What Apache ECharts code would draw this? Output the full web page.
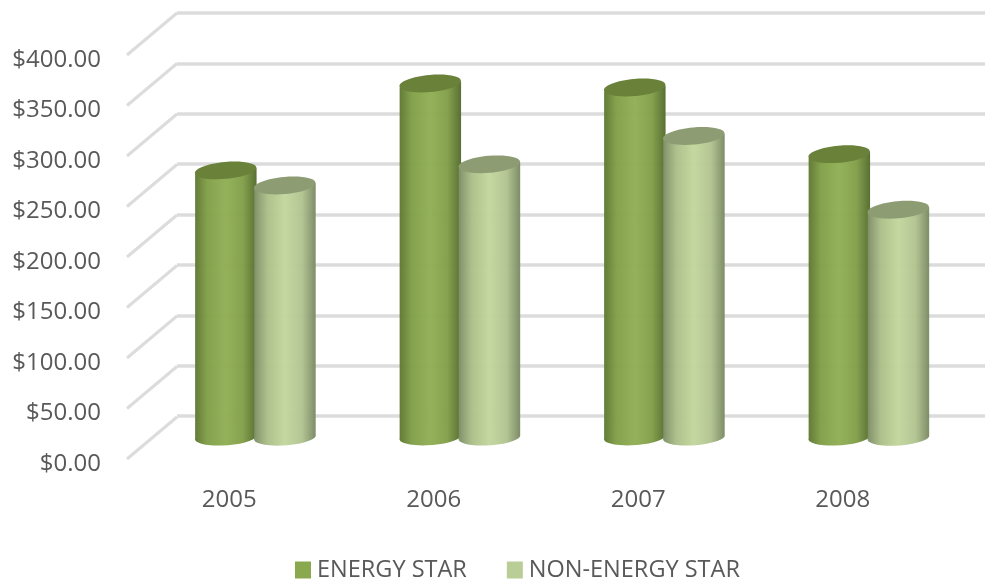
<!DOCTYPE html>
<html>
<head>
<meta charset="utf-8">
<style>html,body{margin:0;padding:0;background:#fff}#c{width:985px;height:582px}</style>
<script src="https://cdn.jsdelivr.net/npm/echarts@6/dist/echarts.min.js"></script>
</head>
<body>
<div id="c"></div>
<script>
const categories = ['2005', '2006', '2007', '2008'];
const energyStar = [265, 351, 347, 281];
const nonEnergyStar = [250, 271, 299, 226];
const ticks = [0, 50, 100, 150, 200, 250, 300, 350, 400];
const seriesNames = ['ENERGY STAR', 'NON-ENERGY STAR'];

const DEPTH_X = 50, DEPTH_Y = 42;
const FONT = '"Open Sans", sans-serif';
const TEXT = '#595959';
const GRIDLINE = '#dcdcdc';
const TILT = 0.09;

function cylinder(slot, stops, topColor) {
  return function (params, api) {
    const i = api.value(0), v = api.value(1);
    const band = api.size([1, 0])[0];
    const top = api.coord([i, v]);
    const base = api.coord([i, 0]);
    const rx = band * 0.151, ry = 8.5;
    const cx = top[0] + DEPTH_X / 2 + 1 + slot * band * 0.1445;
    const yt = top[1] - DEPTH_Y / 2, yb = base[1] - DEPTH_Y / 2;
    const l = cx - rx, r = cx + rx;
    const dy = rx * Math.sin(TILT);
    return {
      type: 'group',
      children: [
        {
          type: 'path',
          shape: {
            pathData: `M${l} ${yt + dy}L${l} ${yb + 1}A${rx} 8 -4 0 0 ${r} ${yb - 1}L${r} ${yt - dy}Z`,
            x: l, y: yt - dy, width: r - l, height: yb + 8 - yt + dy
          },
          style: {
            fill: {
              type: 'linear', x: 0, y: 0, x2: 1, y2: 0,
              colorStops: stops
            },
            opacity: 0.98
          }
        },
        {
          type: 'ellipse',
          x: cx, y: yt,
          rotation: TILT,
          shape: { cx: 0, cy: 0, rx: rx, ry: ry },
          style: { fill: topColor }
        }
      ]
    };
  };
}

function rows(values) { return values.map((v, i) => [i, v]); }

const hiddenY = { type: 'value', min: 0, max: 400, interval: 50 };

const chart = echarts.init(document.getElementById('c'), null, { renderer: 'canvas' });
chart.setOption({
  animation: false,
  backgroundColor: '#fff',
  grid: [
    { left: 127, width: 818, top: 55, height: 404 },
    { left: 177, right: 0, top: 13, height: 403 },
    { left: 127, width: 818, top: 60, height: 404 }
  ],
  xAxis: [
    { type: 'category', data: categories, gridIndex: 0, show: false },
    { type: 'category', data: categories, gridIndex: 1, show: false },
    {
      type: 'category', data: categories, gridIndex: 2,
      axisLine: { show: false }, axisTick: { show: false },
      axisLabel: { color: TEXT, fontFamily: FONT, fontSize: 24, margin: 24 }
    }
  ],
  yAxis: [
    Object.assign({ gridIndex: 0, show: false }, hiddenY),
    Object.assign({
      gridIndex: 1,
      axisLine: { show: false }, axisTick: { show: false }, axisLabel: { show: false },
      splitLine: { show: true, lineStyle: { color: GRIDLINE, width: 3.5 } }
    }, hiddenY),
    Object.assign({
      gridIndex: 2,
      axisLine: { show: false }, axisTick: { show: false },
      splitLine: { show: false },
      axisLabel: {
        color: TEXT, fontFamily: FONT, fontSize: 24, margin: 26,
        formatter: v => '$' + v.toFixed(2)
      }
    }, hiddenY)
  ],
  legend: {
    left: 290, top: 558, padding: [0, 5],
    icon: 'rect', itemWidth: 16, itemHeight: 17, itemGap: 40,
    textStyle: { color: TEXT, fontFamily: FONT, fontSize: 23.5, padding: [0, 0, 0, 1] },
    data: seriesNames
  },
  series: [
    {
      type: 'custom', name: 'walls', silent: true, z: 1,
      xAxisIndex: 0, yAxisIndex: 0,
      data: ticks.map(t => [0, t]),
      encode: { x: 0, y: 1 },
      renderItem(params, api) {
        const y = api.coord([0, api.value(1)])[1];
        const x = params.coordSys.x;
        return {
          type: 'line',
          shape: { x1: x, y1: y, x2: x + DEPTH_X, y2: y - DEPTH_Y },
          style: { stroke: GRIDLINE, lineWidth: 3 }
        };
      }
    },
    {
      type: 'custom', name: seriesNames[0], z: 3,
      xAxisIndex: 0, yAxisIndex: 0,
      itemStyle: { color: '#8aa84e' },
      data: rows(energyStar),
      encode: { x: 0, y: 1 },
      renderItem: cylinder(-1, [
        { offset: 0, color: '#5f7833' },
        { offset: 0.2, color: '#82a04a' },
        { offset: 0.5, color: '#92b057' },
        { offset: 0.78, color: '#83a04b' },
        { offset: 1, color: '#566d2f' }
      ], '#6a8139')
    },
    {
      type: 'custom', name: seriesNames[1], z: 4,
      xAxisIndex: 0, yAxisIndex: 0,
      itemStyle: { color: '#b9cd96' },
      data: rows(nonEnergyStar),
      encode: { x: 0, y: 1 },
      renderItem: cylinder(1, [
        { offset: 0, color: '#7f8e68' },
        { offset: 0.22, color: '#adc08a' },
        { offset: 0.5, color: '#c4d79f' },
        { offset: 0.78, color: '#b2c491' },
        { offset: 1, color: '#7c8a65' }
      ], '#8d9c72')
    }
  ]
});
</script>
</body>
</html>
